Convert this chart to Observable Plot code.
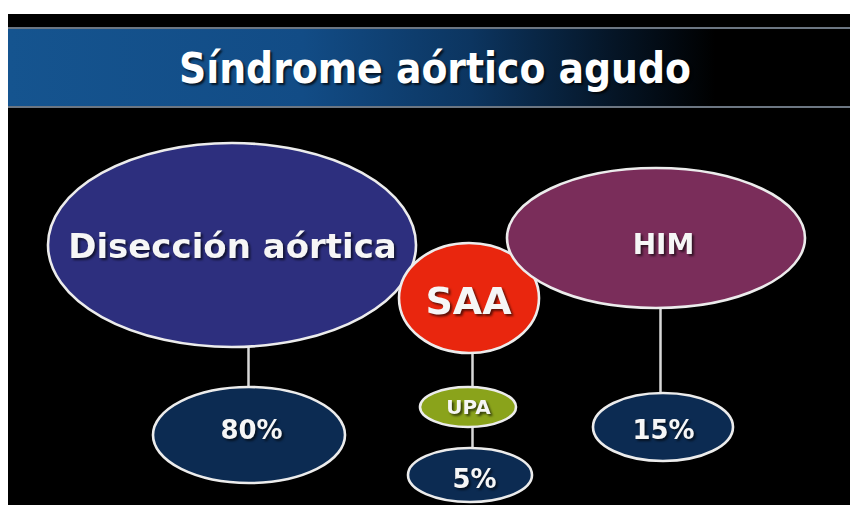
<!DOCTYPE html>
<html>
<head>
<meta charset="utf-8">
<script src="https://cdn.jsdelivr.net/npm/d3@7"></script>
<script src="https://cdn.jsdelivr.net/npm/@observablehq/plot@0.6"></script>
<style>
  html, body { margin: 0; padding: 0; background: #fff; width: 850px; height: 505px; overflow: hidden; }
  #frame { position: absolute; left: 8px; top: 14px; width: 842px; height: 491px; background: #000; }
  #band { position: absolute; left: 0; top: 13px; width: 842px; height: 77px;
    border-top: 2px solid #6c7682; border-bottom: 2px solid #6c7682;
    background: linear-gradient(to right, #15548f 0%, #124c86 35%, #0c3560 55%, #051526 72%, #000 84%, #000 100%); }
  #title { position: absolute; left: 0; width: 854px; top: 1px; height: 77px; line-height: 77px; margin: 0;
    text-align: center; color: #fff; font-family: "DejaVu Sans Condensed", "DejaVu Sans", sans-serif;
    font-weight: bold; font-size: 42px; text-shadow: 2px 2px 2px rgba(0,0,0,0.7); }
  #chart { position: absolute; left: 0; top: 94px; }
  #chart text { filter: drop-shadow(2px 2px 1px rgba(0,0,0,0.6)); }
</style>
</head>
<body>
<div id="frame">
  <div id="band"><h1 id="title">Síndrome aórtico agudo</h1></div>
  <div id="chart"></div>
</div>
<script>
// ---- chart content ----
const conditions = ["Disección aórtica", "HIM", "UPA"];
const percentages = [80, 15, 5];
const centerLabel = "SAA";

// ---- layout (page pixel coordinates), drawing order ----
const nodeLayout = [
  {label: "Disección aórtica", cx: 232, cy: 245, rx: 184, ry: 102, fill: "#2d2f7e", fs: 34, by: 257},
  {label: "SAA",   cx: 469, cy: 298, rx: 70,  ry: 55, fill: "#e9260e", fs: 38, by: 313, tx: 468},
  {label: "HIM",   cx: 656, cy: 238, rx: 149, ry: 70, fill: "#7a2d5a", fs: 28, by: 253, tx: 663},
  {label: "UPA",   cx: 468, cy: 407, rx: 48,  ry: 20, fill: "#8aa31b", fs: 20, by: 413},
  {label: "80%",   cx: 249, cy: 435, rx: 96,  ry: 48, fill: "#0c2b52", fs: 26, by: 438, tx: 251},
  {label: "15%",   cx: 663, cy: 427, rx: 70,  ry: 34, fill: "#0c2b52", fs: 26, by: 438},
  {label: "5%",    cx: 470, cy: 475, rx: 62,  ry: 27, fill: "#0c2b52", fs: 26, by: 487, tx: 474}
];
const linkLayout = [
  {x: 248, y1: 300, y2: 420},
  {x: 472, y1: 330, y2: 410},
  {x: 472, y1: 410, y2: 460},
  {x: 660, y1: 260, y2: 410}
];

// labels come from the content arrays
const labelFor = {
  "Disección aórtica": conditions[0], "HIM": conditions[1], "UPA": conditions[2],
  "SAA": centerLabel,
  "80%": percentages[0] + "%", "15%": percentages[1] + "%", "5%": percentages[2] + "%"
};
const nodes = nodeLayout.map(d => ({...d, text: labelFor[d.label], tx: d.tx ?? d.cx, ty: d.by - 0.32 * d.fs}));

function ellipseMark(data) {
  return (index, scales) => {
    const g = d3.create("svg:g");
    for (const d of data) {
      const x = scales.x(d.cx), y = scales.y(d.cy);
      g.append("ellipse")
        .attr("cx", x).attr("cy", y)
        .attr("rx", Math.abs(scales.x(d.cx + d.rx) - x))
        .attr("ry", Math.abs(scales.y(d.cy + d.ry) - y))
        .attr("fill", d.fill)
        .attr("stroke", "#ececec")
        .attr("stroke-width", 2.6);
    }
    return g.node();
  };
}

const font = "DejaVu Sans, Verdana, sans-serif";
const plot = Plot.plot({
  width: 842,
  height: 397,
  margin: 0,
  style: {background: "#000", overflow: "visible"},
  x: {domain: [8, 850], range: [0, 842], axis: null},
  y: {domain: [108, 505], range: [0, 397], axis: null},
  marks: [
    Plot.link(linkLayout, {x1: "x", x2: "x", y1: "y1", y2: "y2", stroke: "#d8d8d8", strokeWidth: 2.5}),
    ellipseMark(nodes),
    Plot.text(nodes, {x: "tx", y: "ty", text: "text", fontSize: d => d.fs,
      fill: "#f6f6f6", fontWeight: "bold", fontFamily: font})
  ]
});
document.getElementById("chart").appendChild(plot);
</script>
</body>
</html>
